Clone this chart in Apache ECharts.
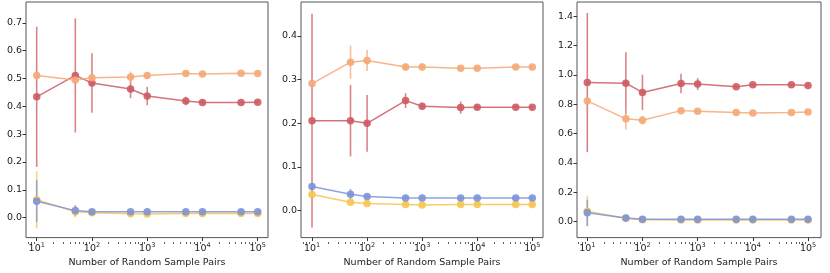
<!DOCTYPE html>
<html><head><meta charset="utf-8">
<script src="https://cdn.jsdelivr.net/npm/echarts@6/dist/echarts.min.js"></script>
<style>html,body{margin:0;padding:0;background:#fff}#c{width:830px;height:273px}</style>
</head><body><div id="c"></div>
<script>
const xs = [10, 50, 100, 500, 1000, 5000, 10000, 50000, 100000];
const xMajor = [10, 100, 1000, 10000, 100000];
const xMinor = [7,8,9,20,30,40,50,60,70,80,90,200,300,400,500,600,700,800,900,2000,3000,4000,5000,6000,7000,8000,9000,20000,30000,40000,50000,60000,70000,80000,90000];
const xTitle = 'Number of Random Sample Pairs';

// Panel 1
const p1RedMean = [0.434, 0.511, 0.484, 0.462, 0.437, 0.419, 0.414, 0.414, 0.415];
const p1RedErr  = [0.252, 0.205, 0.107, 0.033, 0.033, 0.015, 0.005, 0.003, 0.003];
const p1OrgMean = [0.511, 0.495, 0.503, 0.505, 0.511, 0.518, 0.516, 0.519, 0.518];
const p1OrgErr  = [0.003, 0.003, 0.003, 0.020, 0.010, 0.004, 0.003, 0.002, 0.002];
const p1BluMean = [0.059, 0.025, 0.021, 0.021, 0.021, 0.021, 0.021, 0.021, 0.021];
const p1BluErr  = [0.075, 0.020, 0.003, 0.002, 0.002, 0.002, 0.002, 0.002, 0.002];
const p1YelMean = [0.064, 0.021, 0.017, 0.014, 0.013, 0.015, 0.015, 0.015, 0.015];
const p1YelErr  = [0.103, 0.020, 0.003, 0.002, 0.002, 0.002, 0.002, 0.002, 0.002];
const p1YTicks = [0, 0.1, 0.2, 0.3, 0.4, 0.5, 0.6, 0.7];

// Panel 2
const p2RedMean = [0.206, 0.206, 0.200, 0.252, 0.239, 0.236, 0.237, 0.237, 0.237];
const p2RedErr  = [0.245, 0.082, 0.065, 0.017, 0.008, 0.014, 0.004, 0.003, 0.003];
const p2OrgMean = [0.291, 0.340, 0.344, 0.329, 0.329, 0.326, 0.326, 0.329, 0.329];
const p2OrgErr  = [0.003, 0.038, 0.024, 0.008, 0.008, 0.003, 0.003, 0.002, 0.002];
const p2BluMean = [0.055, 0.0375, 0.032, 0.029, 0.0285, 0.029, 0.029, 0.029, 0.029];
const p2BluErr  = [0.003, 0.012, 0.003, 0.002, 0.002, 0.002, 0.002, 0.002, 0.002];
const p2YelMean = [0.037, 0.019, 0.016, 0.014, 0.013, 0.014, 0.014, 0.014, 0.014];
const p2YelErr  = [0.003, 0.003, 0.002, 0.002, 0.002, 0.002, 0.002, 0.002, 0.002];
const p2YTicks = [0, 0.1, 0.2, 0.3, 0.4];

// Panel 3
const p3RedMean = [0.947, 0.943, 0.880, 0.941, 0.937, 0.919, 0.932, 0.932, 0.927];
const p3RedErr  = [0.474, 0.210, 0.120, 0.067, 0.040, 0.008, 0.006, 0.005, 0.005];
const p3OrgMean = [0.822, 0.700, 0.691, 0.756, 0.751, 0.744, 0.740, 0.744, 0.747];
const p3OrgErr  = [0.005, 0.072, 0.030, 0.010, 0.008, 0.004, 0.004, 0.003, 0.003];
const p3BluMean = [0.060, 0.0245, 0.0156, 0.0156, 0.0156, 0.0156, 0.0156, 0.0156, 0.0156];
const p3BluErr  = [0.089, 0.005, 0.003, 0.002, 0.002, 0.002, 0.002, 0.002, 0.002];
const p3YelMean = [0.071, 0.022, 0.013, 0.011, 0.011, 0.011, 0.011, 0.011, 0.011];
const p3YelErr  = [0.105, 0.005, 0.003, 0.002, 0.002, 0.002, 0.002, 0.002, 0.002];
const p3YTicks = [0, 0.2, 0.4, 0.6, 0.8, 1.0, 1.2, 1.4];

const colors = {red: '#cd5b63', org: '#f4a877', blu: '#7c93d8', yel: '#f7c44e'};
const FONT = 'DejaVu Sans';

const panels = [
  {left: 26, width: 242, xmin: 6.40, xmax: 153600, ymin: -0.072, ymax: 0.775, yt: p1YTicks,
   s: [[p1RedMean, p1RedErr, 'red'], [p1OrgMean, p1OrgErr, 'org'], [p1YelMean, p1YelErr, 'yel'], [p1BluMean, p1BluErr, 'blu']]},
  {left: 301, width: 242, xmin: 6.31, xmax: 156300, ymin: -0.062, ymax: 0.478, yt: p2YTicks,
   s: [[p2RedMean, p2RedErr, 'red'], [p2OrgMean, p2OrgErr, 'org'], [p2YelMean, p2YelErr, 'yel'], [p2BluMean, p2BluErr, 'blu']]},
  {left: 577, width: 244, xmin: 6.51, xmax: 172000, ymin: -0.109, ymax: 1.496, yt: p3YTicks,
   s: [[p3RedMean, p3RedErr, 'red'], [p3OrgMean, p3OrgErr, 'org'], [p3YelMean, p3YelErr, 'yel'], [p3BluMean, p3BluErr, 'blu']]}
];

const GH = 240;
const grid = [], xAxis = [], yAxis = [], series = [];
panels.forEach((p, i) => {
  grid.push({left: p.left, top: 2, width: p.width, height: GH, show: true, borderColor: '#555', borderWidth: 1, backgroundColor: '#fff'});
  xAxis.push({
    type: 'log', logBase: 10, gridIndex: i, min: p.xmin, max: p.xmax, position: 'bottom',
    name: xTitle, nameLocation: 'middle', nameGap: 17,
    nameTextStyle: {fontFamily: FONT, fontSize: 9.5, color: '#222'},
    axisLine: {show: false, onZero: false}, splitLine: {show: false},
    axisTick: {show: true, length: 3.5, customValues: xMajor, lineStyle: {color: '#333'}},
    axisLabel: {customValues: xMajor, margin: 4, fontFamily: FONT, fontSize: 9.5, color: '#222',
      formatter: v => '10{s|' + Math.round(Math.log10(v)) + '}',
      rich: {s: {fontSize: 6.5, fontFamily: FONT, color: '#222', padding: [0, 0, 6, 0]}}}
  });
  // minor ticks: a second log axis laid onto the bottom edge of the same grid
  xAxis.push({
    type: 'log', logBase: 10, gridIndex: i, min: p.xmin, max: p.xmax, position: 'top', offset: -GH,
    axisLine: {show: false, onZero: false}, splitLine: {show: false},
    axisLabel: {show: false},
    axisTick: {show: true, inside: true, length: 2, customValues: xMinor, lineStyle: {color: '#333', width: 0.8}}
  });
  yAxis.push({
    type: 'value', gridIndex: i, min: p.ymin, max: p.ymax,
    axisLine: {show: false, onZero: false}, splitLine: {show: false},
    axisTick: {show: true, length: 3.5, customValues: p.yt, lineStyle: {color: '#333'}},
    axisLabel: {customValues: p.yt, margin: 4, fontFamily: FONT, fontSize: 9.5, color: '#222', formatter: v => v.toFixed(1)}
  });
  p.s.forEach(([mean, err, c]) => {
    series.push({
      type: 'custom', xAxisIndex: i * 2, yAxisIndex: i, silent: true, z: 2,
      data: xs.map((x, k) => [x, mean[k] - err[k], mean[k] + err[k]]),
      renderItem: (params, api) => {
        const a = api.coord([api.value(0), api.value(1)]);
        const b = api.coord([api.value(0), api.value(2)]);
        return {type: 'line', shape: {x1: a[0], y1: a[1], x2: b[0], y2: b[1]},
          style: {stroke: colors[c], lineWidth: 1.6, opacity: 0.75}};
      }
    });
    series.push({
      type: 'line', xAxisIndex: i * 2, yAxisIndex: i, z: 3,
      data: xs.map((x, k) => [x, mean[k]]),
      symbol: 'circle', symbolSize: 7.5, showSymbol: true,
      lineStyle: {color: colors[c], width: 1.5, opacity: 0.85},
      itemStyle: {color: colors[c], opacity: 0.9},
      animation: false
    });
  });
});

const chart = echarts.init(document.getElementById('c'), null, {renderer: 'canvas'});
chart.setOption({animation: false, backgroundColor: '#fff', grid, xAxis, yAxis, series});
</script></body></html>
